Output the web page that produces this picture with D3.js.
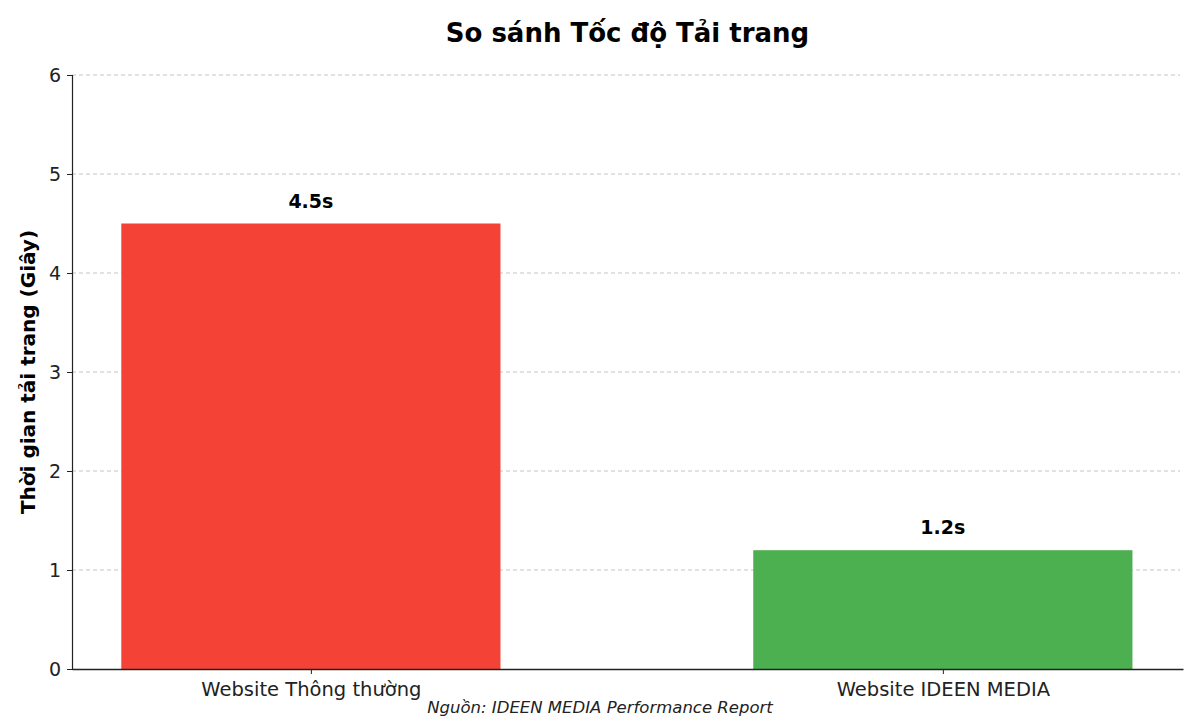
<!DOCTYPE html>
<html><head><meta charset="utf-8">
<script src="https://cdn.jsdelivr.net/npm/d3@7"></script>
<style>body{margin:0;background:#fff}svg{display:block}</style>
</head><body>
<svg id="c" width="1200" height="720"></svg>
<script>
const categories = ["Website Thông thường", "Website IDEEN MEDIA"];
const loadTimes = [4.5, 1.2];
const valueLabels = ["4.5s", "1.2s"];
const barColors = ["#F44336", "#4CAF50"];
const yTicks = [0, 1, 2, 3, 4, 5, 6];

const svg = d3.select("#c");
const L = 72, R = 1183, T = 75, B = 669;
const x = d3.scaleLinear().domain([-0.378, 1.38]).range([L, R]);
const y = d3.scaleLinear().domain([0, 6]).range([B, T]);
const bw = 0.6;
const font = "DejaVu Sans, sans-serif";

// grid
svg.append("g").selectAll("line").data(yTicks.filter(d => d > 0)).join("line")
  .attr("x1", L).attr("x2", R - 3).attr("y1", d => y(d)).attr("y2", d => y(d))
  .attr("stroke", "#c4c4c4").attr("stroke-width", 1).attr("stroke-dasharray", "4,3");

// bars
svg.append("g").selectAll("rect").data(loadTimes).join("rect")
  .attr("x", (d, i) => x(i - bw / 2)).attr("width", x(bw) - x(0))
  .attr("y", d => y(d)).attr("height", d => y(0) - y(d))
  .attr("fill", (d, i) => barColors[i]);

// value labels
svg.append("g").selectAll("text").data(loadTimes).join("text")
  .attr("x", (d, i) => x(i)).attr("y", d => y(d) - 16)
  .attr("text-anchor", "middle").attr("font-family", font).attr("font-weight", "bold")
  .attr("font-size", 19).attr("fill", "#000").text((d, i) => valueLabels[i]);

// y axis
const yAxis = svg.append("g").attr("transform", `translate(${L},0)`)
  .call(d3.axisLeft(y).tickValues(yTicks).tickFormat(d3.format("d")).tickSize(5).tickPadding(6));
yAxis.selectAll("text").attr("font-family", font).attr("font-size", 19).attr("fill", "#222");
yAxis.select(".domain").attr("stroke", "#222").attr("stroke-width", 1.2);
yAxis.selectAll(".tick line").attr("stroke", "#222");

// x axis
const xAxis = svg.append("g").attr("transform", `translate(0,${B})`)
  .call(d3.axisBottom(x).tickValues([0, 1]).tickFormat(i => categories[i]).tickSize(5).tickPadding(8).tickSizeOuter(0));
xAxis.selectAll("text").attr("font-family", font).attr("font-size", 19.5).attr("fill", "#222");
xAxis.select(".domain").attr("stroke", "#222").attr("stroke-width", 1.5);
xAxis.selectAll(".tick line").attr("stroke", "#222");

// title
svg.append("text").attr("x", (L + R) / 2).attr("y", 42).attr("text-anchor", "middle")
  .attr("font-family", font).attr("font-weight", "bold").attr("font-size", 26).attr("fill", "#000")
  .text("So sánh Tốc độ Tải trang");

// y label
svg.append("text").attr("transform", `translate(35,${(T + B) / 2}) rotate(-90)`)
  .attr("text-anchor", "middle").attr("font-family", font).attr("font-weight", "bold")
  .attr("font-size", 20).attr("fill", "#000").text("Thời gian tải trang (Giây)");

// source
svg.append("text").attr("x", 600).attr("y", 713).attr("text-anchor", "middle")
  .attr("font-family", font).attr("font-style", "italic").attr("font-size", 16.5).attr("fill", "#222")
  .text("Nguồn: IDEEN MEDIA Performance Report");
</script>
</body></html>
